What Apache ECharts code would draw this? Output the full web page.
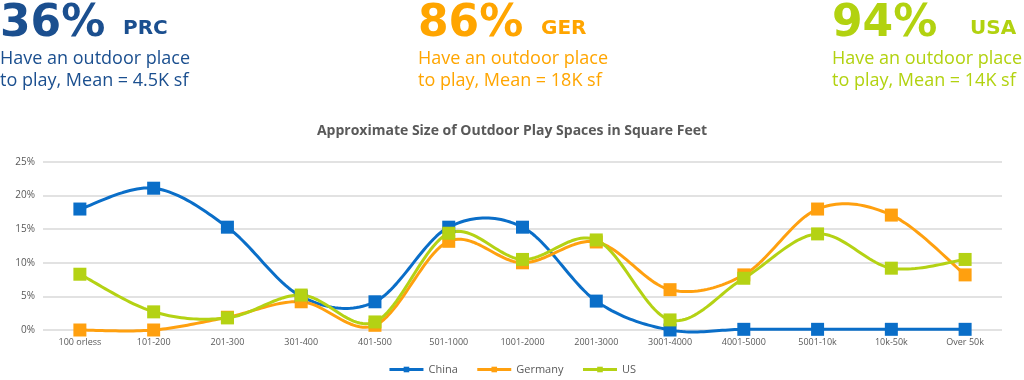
<!DOCTYPE html>
<html><head><meta charset="utf-8">
<script src="https://cdn.jsdelivr.net/npm/echarts@6/dist/echarts.min.js"></script>
<style>html,body{margin:0;padding:0;background:#fff}#c{width:1024px;height:380px}</style>
</head><body><div id="c"></div>
<script>
const categories = ['100 orless','101-200','201-300','301-400','401-500','501-1000','1001-2000','2001-3000','3001-4000','4001-5000','5001-10k','10k-50k','Over 50k'];
const china   = [18, 21.1, 15.3, 5.0, 4.2, 15.3, 15.3, 4.3, 0, 0.1, 0.1, 0.1, 0.1];
const germany = [0, 0, 1.9, 4.2, 0.7, 13.2, 10.0, 13.1, 6.0, 8.2, 18.0, 17.1, 8.2];
const us      = [8.3, 2.7, 1.8, 5.2, 1.2, 14.4, 10.5, 13.4, 1.5, 7.7, 14.3, 9.2, 10.5];
const yTicks = [0, 5, 10, 15, 20, 25];

const COLORS = {China:'#0A6EC8', Germany:'#FFA00F', US:'#B4D214'};
const FONT = '"Open Sans", "Noto Sans", sans-serif';
const BIG = '"DejaVu Sans", sans-serif';
const chart = echarts.init(document.getElementById('c'));

function header(x, codeX, big, code, l1, l2, color) {
  return [
    {type:'text', left:x, top:3, style:{text:big, fontSize:44, fontWeight:'bold', fill:color, fontFamily:BIG}},
    {type:'text', left:codeX, top:19, style:{text:code, fontSize:20, fontWeight:'bold', fill:color, fontFamily:BIG}},
    {type:'text', left:x, top:48, style:{text:l1+'\n'+l2, fontSize:18, lineHeight:22, fill:color, fontFamily:FONT}}
  ];
}

// Excel-style smooth curve (uniform Catmull-Rom) drawn through the axis coordinates
function curveSeries(name, values) {
  return {
    name: name + ' curve', type:'custom', data:[[0]], z:2, silent:true,
    renderItem: function (params, api) {
      const pts = values.map((v, i) => api.coord([i, v]));
      const out = [];
      for (let i = 0; i < pts.length - 1; i++) {
        const p0 = pts[Math.max(i - 1, 0)], p1 = pts[i], p2 = pts[i + 1], p3 = pts[Math.min(i + 2, pts.length - 1)];
        const c1 = [p1[0] + (p2[0] - p0[0]) / 6, p1[1] + (p2[1] - p0[1]) / 6];
        const c2 = [p2[0] - (p3[0] - p1[0]) / 6, p2[1] - (p3[1] - p1[1]) / 6];
        const N = 24;
        for (let k = (i === 0 ? 0 : 1); k <= N; k++) {
          const t = k / N, u = 1 - t;
          out.push([
            u*u*u*p1[0] + 3*u*u*t*c1[0] + 3*u*t*t*c2[0] + t*t*t*p2[0],
            u*u*u*p1[1] + 3*u*u*t*c1[1] + 3*u*t*t*c2[1] + t*t*t*p2[1]
          ]);
        }
      }
      return {type:'polyline', shape:{points:out}, style:{stroke:COLORS[name], lineWidth:3, fill:null, lineJoin:'round'}};
    }
  };
}
function markerSeries(name, values) {
  return {name:name, type:'line', data:values, symbol:'rect', symbolSize:13, z:2,
    itemStyle:{color:COLORS[name]}, lineStyle:{width:0, opacity:0}, showSymbol:true};
}

const option = {
  animation:false,
  title:{text:'Approximate Size of Outdoor Play Spaces in Square Feet', left:'center', top:119,
    textStyle:{fontSize:14, fontWeight:'bold', color:'#595959', fontFamily:FONT}},
  graphic:[].concat(
    header(0, 123, '36%','PRC','Have an outdoor place','to play, Mean = 4.5K sf','#1B4F8F'),
    header(418, 541, '86%','GER','Have an outdoor place','to play, Mean = 18K sf','#FFA500'),
    header(832, 970, '94%','USA','Have an outdoor place','to play, Mean = 14K sf','#B2D210')
  ),
  legend:{bottom:0, left:'center', itemWidth:34, itemHeight:7, itemGap:18,
    lineStyle:{width:3, opacity:1},
    textStyle:{fontSize:11, color:'#595959', fontFamily:FONT}, data:['China','Germany','US']},
  grid:{left:43, right:22, top:162, bottom:50},
  xAxis:{type:'category', data:categories, boundaryGap:true,
    axisLine:{show:false}, axisTick:{show:false},
    axisLabel:{fontSize:9, color:'#595959', fontFamily:FONT, margin:8, interval:0}},
  yAxis:{type:'value', min:yTicks[0], max:yTicks[yTicks.length-1], interval:5,
    axisLabel:{formatter:'{value}%', fontSize:10, color:'#595959', fontFamily:FONT, margin:8},
    splitLine:{lineStyle:{color:'#D9D9D9', width:1.5}}, axisLine:{show:false}, axisTick:{show:false}},
  series:[
    curveSeries('China', china), markerSeries('China', china),
    curveSeries('Germany', germany), markerSeries('Germany', germany),
    curveSeries('US', us), markerSeries('US', us)
  ]
};
chart.setOption(option);
</script></body></html>
